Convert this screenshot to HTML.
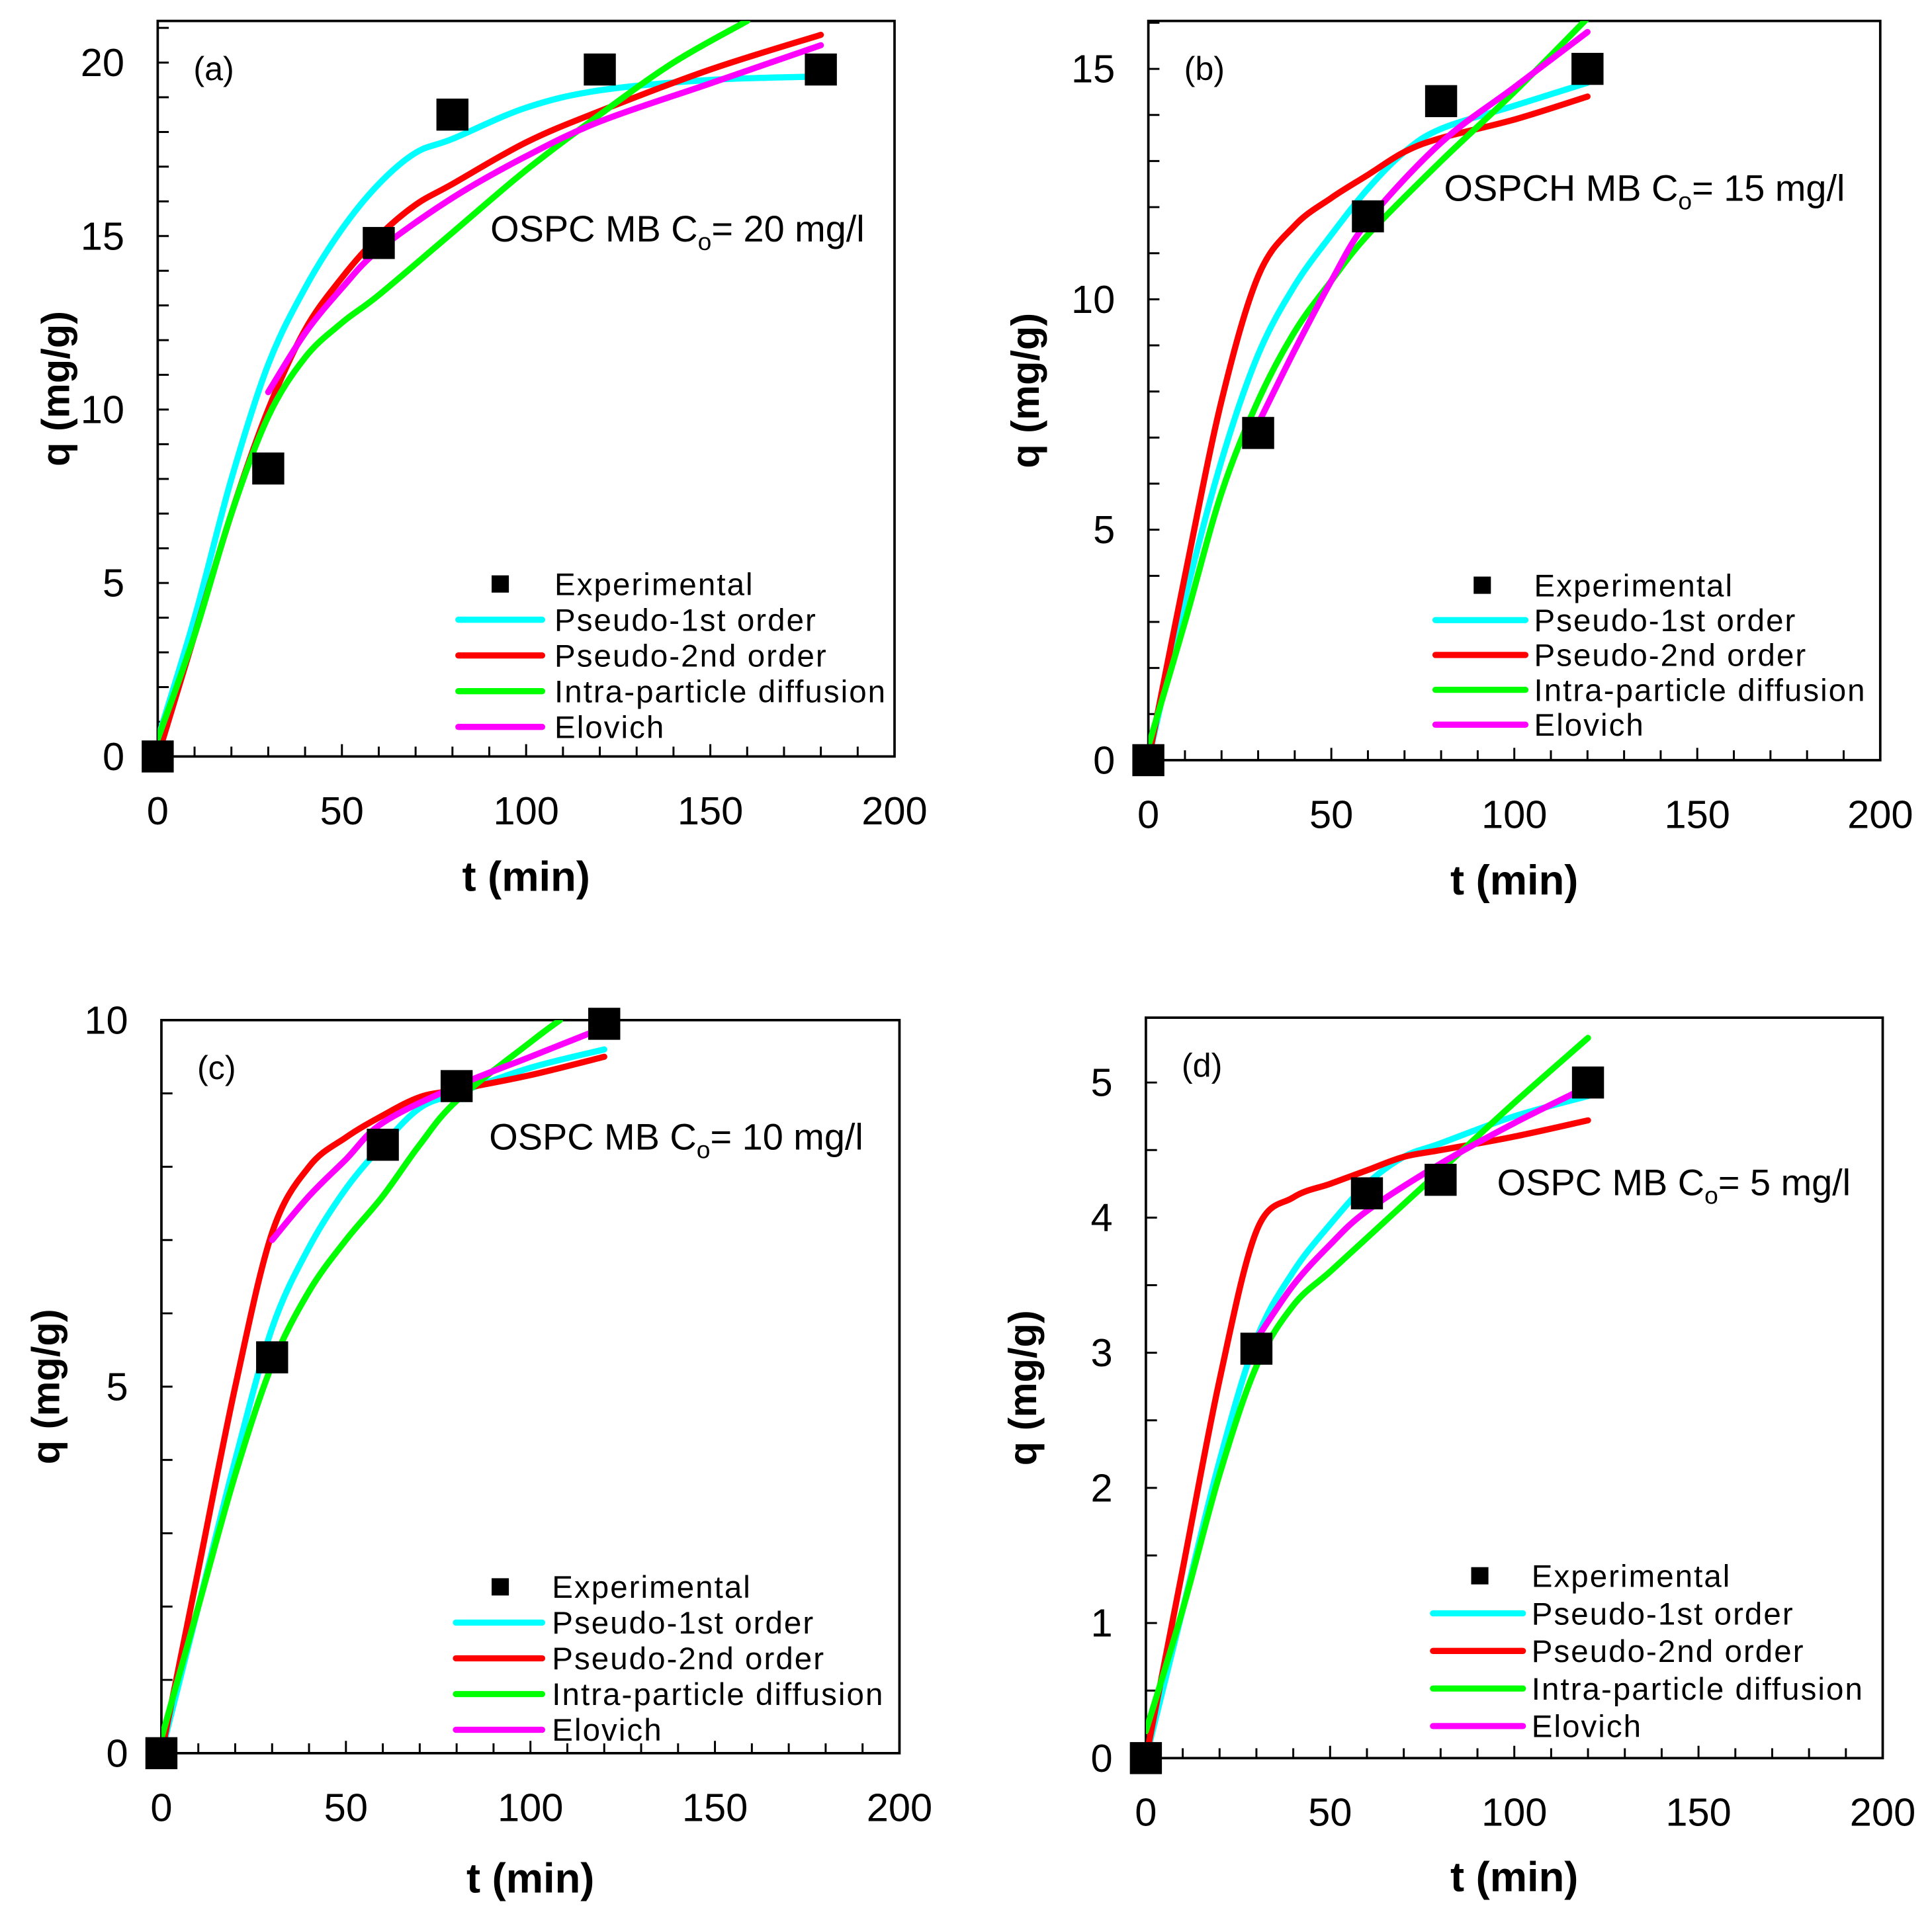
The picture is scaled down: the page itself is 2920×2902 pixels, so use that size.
<!DOCTYPE html>
<html><head><meta charset="utf-8"><style>
html,body{margin:0;padding:0;background:#fff;}
svg{display:block;}
text{font-family:"Liberation Sans",Arial,sans-serif;fill:#000;}
</style></head><body>
<svg id="fig" width="2920" height="2902" viewBox="0 0 1568 1558.4" preserveAspectRatio="none" xmlns="http://www.w3.org/2000/svg"></svg>
<script>
// ---------- Data ----------
const expT_a=[0,30,60,80,120,180];
const expQ_a=[0,8.3,14.8,18.5,19.8,19.8];
const p1T_a=[0,10,20,30,40,50,60,70,80,100,120,150,180];
const p1Q_a=[0.5,4,8,11.3,13.5,15.2,16.5,17.4,17.8,18.7,19.2,19.5,19.6];
const p2T_a=[0,10,20,30,40,50,60,70,80,100,120,150,180];
const p2Q_a=[0,3.5,7,10,12.3,13.8,15,15.9,16.5,17.7,18.6,19.8,20.8];
const ipT_a=[0,10,20,30,40,50,60,80,100,120,140,160];
const ipQ_a=[0.5,3.5,7,9.8,11.5,12.5,13.3,15.1,16.9,18.5,20,21.2];
const elT_a=[30,40,50,60,80,100,120,150,180];
const elQ_a=[10.5,12.2,13.5,14.6,16.1,17.3,18.3,19.4,20.5];

const expT_b=[0,30,60,80,120];
const expQ_b=[0,7.1,11.8,14.3,15.0];
const p1T_b=[0,10,20,30,40,50,60,70,80,100,120];
const p1Q_b=[0,3.5,6.5,8.8,10.3,11.4,12.4,13.2,13.7,14.2,14.7];
const p2T_b=[0,10,20,30,40,50,60,70,80,100,120];
const p2Q_b=[0,4,7.8,10.5,11.6,12.2,12.7,13.2,13.5,13.9,14.4];
const ipT_b=[0,10,20,30,40,50,60,80,100,120];
const ipQ_b=[0.3,3,5.8,7.8,9.3,10.4,11.4,13,14.5,16.1];
const elT_b=[30,40,50,60,80,100,120];
const elQ_b=[7.3,8.9,10.4,11.7,13.4,14.6,15.8];

const expT_c=[0,30,60,80,120];
const expQ_c=[0,5.4,8.3,9.1,9.95];
const p1T_c=[0,10,20,30,40,50,60,70,80,100,120];
const p1Q_c=[0,2,4,5.8,6.9,7.7,8.3,8.8,9.0,9.35,9.6];
const p2T_c=[0,10,20,30,40,50,60,70,80,100,120];
const p2Q_c=[0,2.5,5,7.1,8.0,8.4,8.7,8.95,9.05,9.25,9.5];
const ipT_c=[0,10,20,30,40,50,60,70,80,100,108];
const ipQ_c=[0.2,2,3.8,5.3,6.3,7.0,7.6,8.3,8.9,9.7,10.0];
const elT_c=[30,40,50,60,80,100,120];
const elQ_c=[7.0,7.6,8.1,8.6,9.1,9.5,9.9];

const expT_d=[0,30,60,80,120];
const expQ_d=[0,3.03,4.18,4.28,5.0];
const p1T_d=[0,10,20,30,40,50,60,70,80,100,120];
const p1Q_d=[0,1.1,2.2,3.1,3.6,3.95,4.25,4.45,4.55,4.75,4.9];
const p2T_d=[0,10,20,30,40,50,60,70,80,100,120];
const p2Q_d=[0,1.4,2.8,3.9,4.15,4.25,4.35,4.45,4.5,4.6,4.72];
const ipT_d=[0,10,20,30,40,50,60,70,80,100,120];
const ipQ_d=[0.2,1.1,2.1,2.9,3.35,3.6,3.85,4.1,4.35,4.85,5.33];
const elT_d=[30,40,50,60,80,100,120];
const elQ_d=[3.1,3.5,3.8,4.05,4.4,4.7,4.97];

const xTicks=[0,50,100,150,200];
const yTicks_a=[0,5,10,15,20];
const yTicks_b=[0,5,10,15];
const yTicks_c=[0,5,10];
const yTicks_d=[0,1,2,3,4,5];
const legendLabels=["Experimental","Pseudo-1st order","Pseudo-2nd order","Intra-particle diffusion","Elovich"];

const NS="http://www.w3.org/2000/svg";
const svg=document.getElementById('fig');
function mk(tag,attrs,parent){const e=document.createElementNS(NS,tag);for(const k in attrs)e.setAttribute(k,attrs[k]);(parent||svg).appendChild(e);return e;}

const panels=[
 {id:'a',x0:128,x1:726,top:17,bot:614,ymax:21.2,minor:1,yt:yTicks_a,exp:[expT_a,expQ_a],s:[[p1T_a,p1Q_a],[p2T_a,p2Q_a],[ipT_a,ipQ_a],[elT_a,elQ_a]],
  note:['OSPC MB C','= 20 mg/l'],nx:398,ny:196,leg:{mx:406,tx:450,y0:474,dy:29,l0:372,l1:440},ytx:45,xty:723},
 {id:'b',x0:932,x1:1526,top:17,bot:617,ymax:16.04,minor:1,yt:yTicks_b,exp:[expT_b,expQ_b],s:[[p1T_b,p1Q_b],[p2T_b,p2Q_b],[ipT_b,ipQ_b],[elT_b,elQ_b]],
  note:['OSPCH MB C','= 15 mg/l'],nx:1172,ny:163,leg:{mx:1203,tx:1245,y0:475,dy:28.3,l0:1165,l1:1238},ytx:832,xty:726},
 {id:'c',x0:131,x1:730,top:828,bot:1423,ymax:10,minor:1,yt:yTicks_c,exp:[expT_c,expQ_c],s:[[p1T_c,p1Q_c],[p2T_c,p2Q_c],[ipT_c,ipQ_c],[elT_c,elQ_c]],
  note:['OSPC MB C','= 10 mg/l'],nx:397,ny:933,leg:{mx:406,tx:448,y0:1288,dy:29,l0:370,l1:440},ytx:37,xty:1536},
 {id:'d',x0:930,x1:1528,top:826,bot:1427,ymax:5.48,minor:0.5,yt:yTicks_d,exp:[expT_d,expQ_d],s:[[p1T_d,p1Q_d],[p2T_d,p2Q_d],[ipT_d,ipQ_d],[elT_d,elQ_d]],
  note:['OSPC MB C','= 5 mg/l'],nx:1215,ny:970,leg:{mx:1201,tx:1243,y0:1279,dy:30.5,l0:1163,l1:1236},ytx:830,xty:1535}
];
const colors=['#00ffff','#ff0000','#00ff00','#ff00ff'];
const sNames=['pseudo-1st-order-curve','pseudo-2nd-order-curve','intra-particle-diffusion-curve','elovich-curve'];

function catmull(pts){
  let d='M'+pts[0][0]+','+pts[0][1];
  for(let i=0;i<pts.length-1;i++){
    const p0=pts[i-1]||pts[i],p1=pts[i],p2=pts[i+1],p3=pts[i+2]||p2;
    const c1=[p1[0]+(p2[0]-p0[0])/6,p1[1]+(p2[1]-p0[1])/6];
    const c2=[p2[0]-(p3[0]-p1[0])/6,p2[1]-(p3[1]-p1[1])/6];
    d+='C'+c1+' '+c2+' '+p2;
  }
  return d;
}

panels.forEach(P=>{
  const g=mk('g',{});
  
  
  const X=t=>P.x0+(P.x1-P.x0)*t/200;
  const Y=q=>P.bot-(P.bot-P.top)*q/P.ymax;
  const clip=mk('clipPath',{id:'clip'+P.id},g);
  mk('rect',{x:P.x0,y:P.top,width:P.x1-P.x0,height:P.bot-P.top},clip);
  const tk=mk('g',{stroke:'#000','stroke-width':1.6},g);
  for(let t=0;t<=200;t+=10){const L=(t%50===0)?10:8;mk('line',{x1:X(t),x2:X(t),y1:P.bot,y2:P.bot-L},tk);}
  for(let q=0;q<=P.ymax+1e-6;q+=P.minor){mk('line',{x1:P.x0,x2:P.x0+9,y1:Y(q),y2:Y(q)},tk);}
  const frame=mk('rect',{x:P.x0,y:P.top,width:P.x1-P.x0,height:P.bot-P.top,fill:'none',stroke:'#000','stroke-width':2},g);
  
  
  xTicks.forEach(t=>{const e=mk('text',{x:X(t),y:P.bot+55,'font-size':32,'text-anchor':'middle'},g);e.textContent=t;
    });
  P.yt.forEach(q=>{const e=mk('text',{x:P.x0-27,y:Y(q)+11,'font-size':32,'text-anchor':'end'},g);e.textContent=q;
    });
  const xt=mk('text',{x:(P.x0+P.x1)/2,y:P.xty,'font-size':34,'font-weight':'bold','text-anchor':'middle'},g);
  xt.textContent='t (min)';
  const cy=(P.top+P.bot)/2;
  const yt=mk('text',{x:P.ytx,y:cy,'font-size':32,'font-weight':'bold','text-anchor':'middle',transform:'rotate(-90 '+(P.ytx)+' '+cy+')','dominant-baseline':'central'},g);
  yt.textContent='q (mg/g)';
  const pl=mk('text',{x:P.x0+29,y:P.top+48,'font-size':27},g);pl.textContent='('+P.id+')';
  
  const nt=mk('text',{x:P.nx,y:P.ny,'font-size':30},g);
  
  const s1=mk('tspan',{},nt);s1.textContent=P.note[0];
  const s2=mk('tspan',{'font-size':20,dy:7},nt);s2.textContent='o';
  const s3=mk('tspan',{dy:-7},nt);s3.textContent=P.note[1];
  P.s.forEach((s,i)=>{
    const pts=s[0].map((t,k)=>[X(t),Y(s[1][k])]);
    const p=mk('path',{d:catmull(pts),fill:'none',stroke:colors[i],'stroke-width':5,'stroke-linecap':'round','clip-path':'url(#clip'+P.id+')'},g);
    
    
  });
  P.exp[0].forEach((t,k)=>{
    const r=mk('rect',{x:X(t)-13,y:Y(P.exp[1][k])-13,width:26,height:26,fill:'#000'},g);
    
    
  });
  const L=P.leg;
  const lg=mk('g',{},g);
  
  
  const m=mk('rect',{x:L.mx-7,y:L.y0-7,width:14,height:14,fill:'#000'},lg);
  
  legendLabels.forEach((lab,i)=>{
    const yy=L.y0+i*L.dy;
    if(i>0){const ln=mk('line',{x1:L.l0,x2:L.l1,y1:yy,y2:yy,stroke:colors[i-1],'stroke-width':5,'stroke-linecap':'round'},lg);
      }
    const tx=mk('text',{x:L.tx,y:yy+9,'font-size':25.5,'letter-spacing':1.1},lg);tx.textContent=lab;
    
  });
});
</script>
</body></html>
